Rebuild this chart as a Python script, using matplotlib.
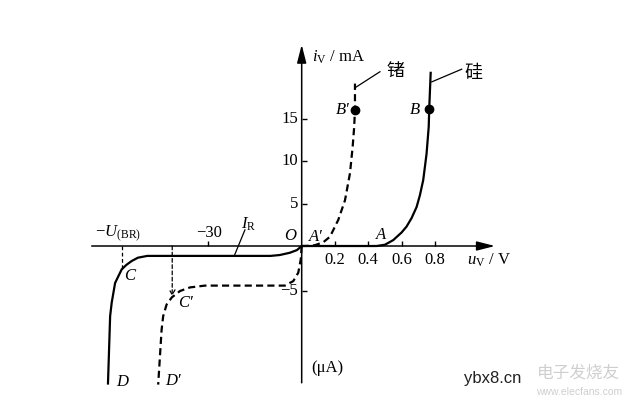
import numpy as np
import matplotlib
matplotlib.use("Agg")
import matplotlib.pyplot as plt

# Diode I-V characteristic: silicon (solid) and germanium (dashed)
# forward branch: volts / mA, reverse branch: volts / uA
si_fwd_v = [0, 0.45, 0.50, 0.55, 0.60, 0.63, 0.66, 0.69, 0.71, 0.73, 0.75, 0.763, 0.766, 0.775]
si_fwd_i = [0, 0, 0.15, 0.7, 1.6, 2.3, 3.3, 4.6, 6.0, 7.8, 10.9, 14.1, 16.2, 20.6]
ge_fwd_v = [0, 0.05, 0.08, 0.13, 0.17, 0.22, 0.26, 0.29, 0.306, 0.315, 0.32, 0.32]
ge_fwd_i = [0, 0.02, 0.1, 0.45, 1.1, 3.1, 5.4, 8.6, 11.7, 14.0, 16.1, 19.2]

si_rev_v = [0, -1.5, -3.8, -7, -10, -30, -49.5, -52.5, -54.5, -56.2, -57.7, -59.8, -60.9, -61.4, -62.1]
si_rev_i = [0, -0.45, -0.75, -1.0, -1.1, -1.1, -1.1, -1.3, -1.67, -2.1, -2.6, -4.1, -6.3, -7.8, -15.4]
ge_rev_v = [0, -0.3, -1.1, -2.7, -5.4, -10, -31, -35.8, -39, -41.6, -43.3, -44.4, -44.9, -46]
ge_rev_i = [0, -1.5, -2.97, -3.9, -4.4, -4.4, -4.4, -4.6, -5.0, -5.7, -6.5, -7.8, -9.3, -15.4]

B_si = (0.766, 16.2)
B_ge = (0.32, 16.1)
U_br_si = -57.7
U_br_ge = -41.5

x_ticks = [0.2, 0.4, 0.6, 0.8]
x_tick_labels = ["0.2", "0.4", "0.6", "0.8"]
y_ticks = [5, 10, 15, -5]
y_tick_labels = ["5", "10", "15", "\u22125"]

plt.rcParams['font.family'] = ['Liberation Serif', 'Noto Sans CJK SC']
plt.rcParams['mathtext.fontset'] = 'custom'
plt.rcParams['mathtext.rm'] = 'Liberation Serif'
plt.rcParams['mathtext.it'] = 'Liberation Serif:italic'


# piecewise scales: different units on each side of the origin
def fx(v):
    v = np.asarray(v, dtype=float)
    return np.where(v >= 0, v * 166.5, v * 3.12)


def fx_inv(p):
    p = np.asarray(p, dtype=float)
    return np.where(p >= 0, p / 166.5, p / 3.12)


def fy(i):
    i = np.asarray(i, dtype=float)
    return np.where(i >= 0, i * 8.46, i * 9.0)


def fy_inv(p):
    p = np.asarray(p, dtype=float)
    return np.where(p >= 0, p / 8.46, p / 9.0)


fig = plt.figure(figsize=(6.4, 4.08), dpi=100)
ax = fig.add_axes([0, 0, 1, 1])
ax.set_xscale('function', functions=(fx, fx_inv))
ax.set_yscale('function', functions=(fy, fy_inv))
ax.set_xlim(-96.7, 2.032)
ax.set_ylim(-18.0, 29.08)
ax.axis('off')

k = 'black'
# axes with arrows
arr = dict(arrowstyle='-|>,head_length=1.1,head_width=0.28', color=k, lw=1.1,
           mutation_scale=10, shrinkA=0, shrinkB=0)
ax.annotate('', xy=(1.161, 0), xytext=(-67.3, 0), arrowprops=arr)
ax.annotate('', xy=(0, 23.8), xytext=(0, -15.2), arrowprops=arr)

# ticks
ax.vlines(x_ticks, 0, 0.6, color=k, lw=1.0)
ax.vlines([-30], 0, 0.6, color=k, lw=1.0)
ax.hlines(y_ticks, 0, 0.03, color=k, lw=1.0)

dash = (0, (3.2, 1.9))
# curves
ax.plot(si_fwd_v, si_fwd_i, color=k, lw=1.6, solid_capstyle='butt')
ax.plot(si_rev_v, si_rev_i, color=k, lw=1.6, solid_capstyle='butt')
ax.plot(ge_fwd_v, ge_fwd_i, color=k, lw=1.6, linestyle=dash)
ax.plot(ge_rev_v, ge_rev_i, color=k, lw=1.6, linestyle=dash)

ax.plot(*B_si, 'o', color=k, ms=6)
ax.plot(*B_ge, 'o', color=k, ms=6)

# breakdown voltage markers
ax.plot([U_br_si, U_br_si], [0, -2.5], color=k, lw=0.9, linestyle=(0, (3, 2)))
ax.annotate('', xy=(U_br_ge, -5.55), xytext=(U_br_ge, 0),
            arrowprops=dict(arrowstyle='->,head_length=0.35,head_width=0.2', color=k,
                            lw=0.9, linestyle=(0, (3, 2)), shrinkA=0, shrinkB=0))

# leader lines
ax.plot([0.32, 0.47], [18.7, 20.6], color=k, lw=0.9)
ax.plot([0.781, 0.961], [19.4, 20.9], color=k, lw=0.9)
ax.plot([-18.2, -21.6], [1.9, -1.08], color=k, lw=0.9)

fs = 12
# tick labels
for x, lab in zip(x_ticks, x_tick_labels):
    ax.text(x, -1.6, lab, ha='center', va='center', fontsize=fs)
for y, lab in zip(y_ticks, y_tick_labels):
    ax.text(-1.2, y, lab, ha='right', va='center', fontsize=fs)
ax.text(-29.6, 1.5, "\u221230", ha='center', va='center', fontsize=fs)

# axis labels
ax.text(0.062, 22.3, r"$i_{\rm V}$ / mA", ha='left', va='center', fontsize=fs)
ax.text(0.991, -1.6, r"$u_{\rm V}$ / V", ha='left', va='center', fontsize=fs)
ax.text(0.155, -13.6, "(\u03bcA)", ha='center', va='center', fontsize=fs)
ax.text(-66.3, 1.4, r"$-U_{\rm (BR)}$", ha='left', va='center', fontsize=fs)
ax.text(-16.9, 2.6, r"$I_{\rm R}$", ha='center', va='center', fontsize=fs)

# curve names and points
ax.text(0.565, 20.6, "锗", ha='center', va='center', fontsize=13)
ax.text(1.031, 20.4, "硅", ha='center', va='center', fontsize=13)
ital = dict(fontsize=fs, style='italic', va='center')
ax.text(0.29, 16.1, "B\u2032", ha='right', **ital)
ax.text(0.71, 16.1, "B", ha='right', **ital)
ax.text(-3.75, 1.2, "O", ha='center', **ital)
ax.text(0.086, 1.1, "A\u2032", ha='center', **ital)
ax.text(0.474, 1.3, "A", ha='center', **ital)
ax.text(-55.3, -3.33, "C", ha='center', **ital)
ax.text(-37.1, -6.3, "C\u2032", ha='center', **ital)
ax.text(-57.6, -15.1, "D", ha='center', **ital)
ax.text(-41.4, -15.0, "D\u2032", ha='center', **ital)

# watermark
ax.text(1.145, -14.7, "ybx8.cn", ha='center', va='center', fontsize=12,
        family='Liberation Sans', color='#222222')
ax.text(1.66, -14.1, "电子发烧友", ha='center', va='center', fontsize=12,
        family='Noto Sans CJK SC', color='#cfcfcf')
ax.text(1.665, -16.2, "www.elecfans.com", ha='center', va='center', fontsize=7.5,
        family='Liberation Sans', color='#cfcfcf')

fig.savefig("out.png", dpi=100)
